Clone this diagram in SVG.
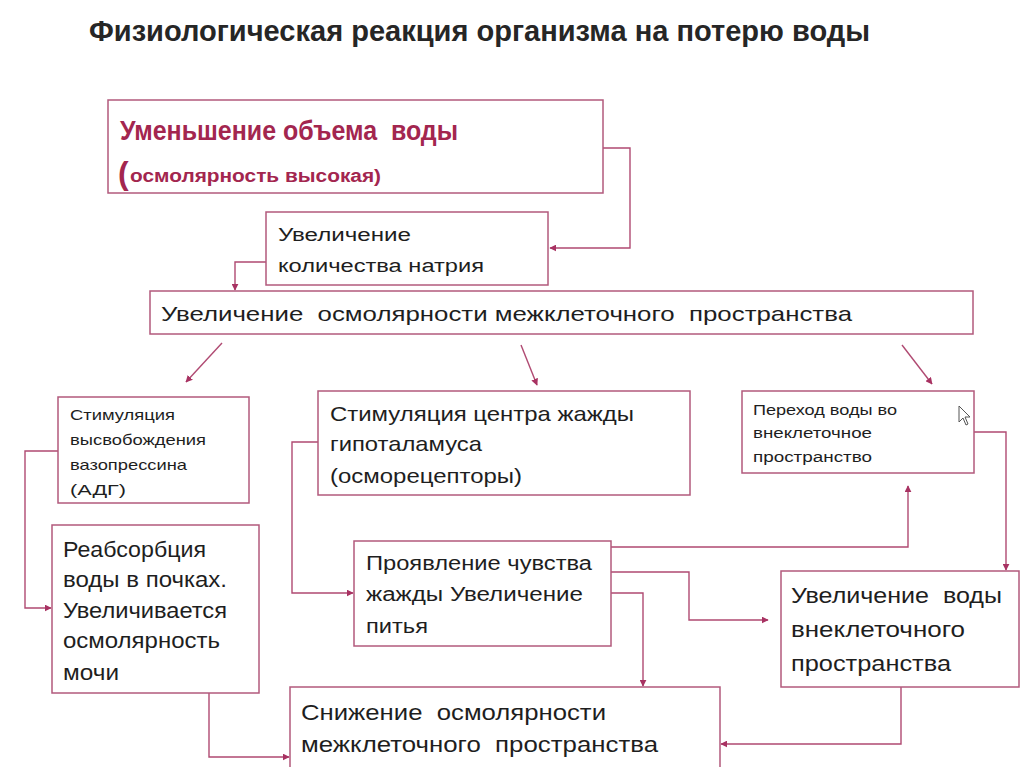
<svg xmlns="http://www.w3.org/2000/svg" width="1024" height="767" viewBox="0 0 1024 767">
<style>
.bg{fill:#ffffff}
.box{fill:#ffffff;stroke:#b25a7c;stroke-width:1.5}
.t{font-family:"Liberation Sans","Noto Sans",sans-serif;fill:#1e1e1e;white-space:pre}
.hd{fill:#262626}
.red{fill:#a3264f}
.conn{fill:none;stroke:#b04a72;stroke-width:1.4}
</style>
<defs>
<marker id="ah" viewBox="0 0 10 10" refX="9" refY="5" markerWidth="7" markerHeight="7" markerUnits="userSpaceOnUse" orient="auto">
<path d="M0,0 L10,5 L0,10 z" fill="#a83262"/>
</marker>
</defs>
<rect class="bg" x="0" y="0" width="1024" height="767"/>
<text class="t hd" x="89" y="41" font-size="30" font-weight="bold" textLength="781" lengthAdjust="spacingAndGlyphs">Физиологическая реакция организма на потерю воды</text>

<g id="connectors">
<path class="conn" d="M603,148 H630 V248 H550" marker-end="url(#ah)"/>
<path class="conn" d="M266,262 H235 V290" marker-end="url(#ah)"/>
<path class="conn" d="M222,343 L186,382" marker-end="url(#ah)"/>
<path class="conn" d="M521,345 L537,385" marker-end="url(#ah)"/>
<path class="conn" d="M902,345 L932,384" marker-end="url(#ah)"/>
<path class="conn" d="M58,451 H25 V608 H51" marker-end="url(#ah)"/>
<path class="conn" d="M209,693 V757 H289" marker-end="url(#ah)"/>
<path class="conn" d="M318,442 H292 V593 H353" marker-end="url(#ah)"/>
<path class="conn" d="M611,547 H908 V486" marker-end="url(#ah)"/>
<path class="conn" d="M611,572 H689 V620 H768" marker-end="url(#ah)"/>
<path class="conn" d="M611,593 H643 V686" marker-end="url(#ah)"/>
<path class="conn" d="M974,432 H1006 V570" marker-end="url(#ah)"/>
<path class="conn" d="M901,687 V744 H721" marker-end="url(#ah)"/>
</g>

<g id="n1">
<rect class="box" x="108" y="100" width="495" height="93"/>
<text class="t red" x="120" y="140" font-size="28" font-weight="bold" textLength="338" lengthAdjust="spacingAndGlyphs">Уменьшение объема  воды</text>
<text class="t red" x="118" y="184" font-size="32" font-weight="bold">(</text>
<text class="t red" x="130" y="182" font-size="18" font-weight="bold" textLength="251" lengthAdjust="spacingAndGlyphs">осмолярность высокая)</text>
</g>

<g id="n2">
<rect class="box" x="266" y="212" width="282" height="73"/>
<text class="t" x="278" y="241" font-size="18" textLength="133" lengthAdjust="spacingAndGlyphs">Увеличение</text>
<text class="t" x="278" y="272" font-size="18" textLength="206" lengthAdjust="spacingAndGlyphs">количества натрия</text>
</g>

<g id="n3">
<rect class="box" x="150" y="291" width="823" height="43"/>
<text class="t" x="161" y="321" font-size="21" textLength="691" lengthAdjust="spacingAndGlyphs">Увеличение  осмолярности межклеточного  пространства</text>
</g>

<g id="n4">
<rect class="box" x="58" y="397" width="191" height="106"/>
<text class="t" x="70" y="420" font-size="14.5" textLength="105" lengthAdjust="spacingAndGlyphs">Стимуляция</text>
<text class="t" x="70" y="445" font-size="14.5" textLength="136" lengthAdjust="spacingAndGlyphs">высвобождения</text>
<text class="t" x="70" y="470" font-size="14.5" textLength="117" lengthAdjust="spacingAndGlyphs">вазопрессина</text>
<text class="t" x="70" y="495" font-size="14.5" textLength="56" lengthAdjust="spacingAndGlyphs">(АДГ)</text>
</g>

<g id="n5">
<rect class="box" x="52" y="525" width="207" height="168"/>
<text class="t" x="63" y="557" font-size="22" textLength="143" lengthAdjust="spacingAndGlyphs">Реабсорбция</text>
<text class="t" x="63" y="587" font-size="22" textLength="164" lengthAdjust="spacingAndGlyphs">воды в почках.</text>
<text class="t" x="63" y="618" font-size="22" textLength="164" lengthAdjust="spacingAndGlyphs">Увеличивается</text>
<text class="t" x="63" y="648" font-size="22" textLength="157" lengthAdjust="spacingAndGlyphs">осмолярность</text>
<text class="t" x="63" y="680" font-size="22" textLength="56" lengthAdjust="spacingAndGlyphs">мочи</text>
</g>

<g id="n6">
<rect class="box" x="290" y="687" width="430" height="90"/>
<text class="t" x="301" y="720" font-size="22" textLength="305" lengthAdjust="spacingAndGlyphs">Снижение  осмолярности</text>
<text class="t" x="301" y="752" font-size="22" textLength="357" lengthAdjust="spacingAndGlyphs">межклеточного  пространства</text>
</g>

<g id="n7">
<rect class="box" x="318" y="391" width="372" height="104"/>
<text class="t" x="330" y="421" font-size="21" textLength="304" lengthAdjust="spacingAndGlyphs">Стимуляция центра жажды</text>
<text class="t" x="330" y="451" font-size="21" textLength="152" lengthAdjust="spacingAndGlyphs">гипоталамуса</text>
<text class="t" x="330" y="483" font-size="21" textLength="192" lengthAdjust="spacingAndGlyphs">(осморецепторы)</text>
</g>

<g id="n8">
<rect class="box" x="354" y="541" width="257" height="105"/>
<text class="t" x="366" y="570" font-size="20" textLength="226" lengthAdjust="spacingAndGlyphs">Проявление чувства</text>
<text class="t" x="366" y="601" font-size="20" textLength="217" lengthAdjust="spacingAndGlyphs">жажды Увеличение</text>
<text class="t" x="366" y="633" font-size="20" textLength="62" lengthAdjust="spacingAndGlyphs">питья</text>
</g>

<g id="n9">
<rect class="box" x="742" y="391" width="232" height="82"/>
<text class="t" x="753" y="415" font-size="14" textLength="144" lengthAdjust="spacingAndGlyphs">Переход воды во</text>
<text class="t" x="753" y="438" font-size="14" textLength="119" lengthAdjust="spacingAndGlyphs">внеклеточное</text>
<text class="t" x="753" y="462" font-size="14" textLength="119" lengthAdjust="spacingAndGlyphs">пространство</text>
<path d="M959,406 L959,422 L963,418 L966,425 L968,424 L965,417 L970,417 Z" fill="#ffffff" stroke="#555" stroke-width="1"/>
</g>

<g id="n10">
<rect class="box" x="781" y="571" width="238" height="116"/>
<text class="t" x="791" y="603" font-size="22" textLength="211" lengthAdjust="spacingAndGlyphs">Увеличение  воды</text>
<text class="t" x="791" y="637" font-size="22" textLength="174" lengthAdjust="spacingAndGlyphs">внеклеточного</text>
<text class="t" x="791" y="671" font-size="22" textLength="160" lengthAdjust="spacingAndGlyphs">пространства</text>
</g>
</svg>
